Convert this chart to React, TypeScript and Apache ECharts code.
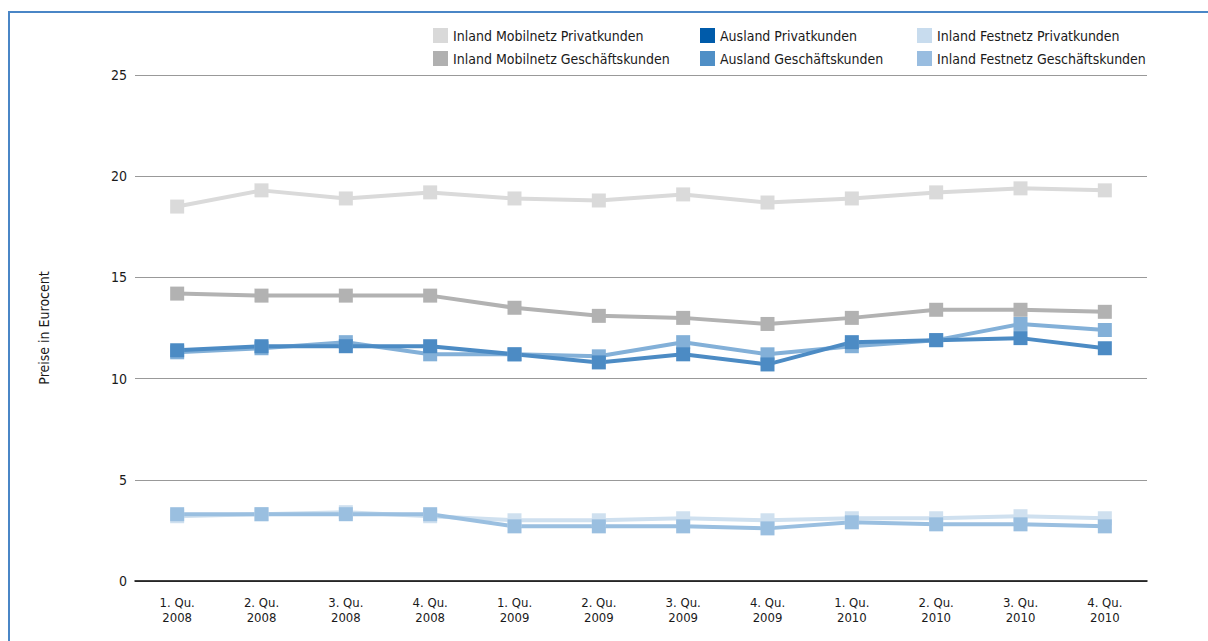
import React, { useEffect, useRef } from "react";
import * as echarts from "echarts";

const FONT = "'DejaVu Sans Condensed', 'Liberation Sans Narrow', 'Arial Narrow', sans-serif";

const quarters = [
  "1. Qu.\n2008", "2. Qu.\n2008", "3. Qu.\n2008", "4. Qu.\n2008",
  "1. Qu.\n2009", "2. Qu.\n2009", "3. Qu.\n2009", "4. Qu.\n2009",
  "1. Qu.\n2010", "2. Qu.\n2010", "3. Qu.\n2010", "4. Qu.\n2010",
];

const mobilPrivat = [18.5, 19.3, 18.9, 19.2, 18.9, 18.8, 19.1, 18.7, 18.9, 19.2, 19.4, 19.3];
const mobilGeschaeft = [14.2, 14.1, 14.1, 14.1, 13.5, 13.1, 13.0, 12.7, 13.0, 13.4, 13.4, 13.3];
const auslandPrivat = [11.4, 11.6, 11.6, 11.6, 11.2, 10.8, 11.2, 10.7, 11.8, 11.9, 12.0, 11.5];
const auslandGeschaeft = [11.3, 11.5, 11.8, 11.2, 11.2, 11.1, 11.8, 11.2, 11.6, 11.9, 12.7, 12.4];
const festPrivat = [3.2, 3.3, 3.4, 3.2, 3.0, 3.0, 3.1, 3.0, 3.1, 3.1, 3.2, 3.1];
const festGeschaeft = [3.3, 3.3, 3.3, 3.3, 2.7, 2.7, 2.7, 2.6, 2.9, 2.8, 2.8, 2.7];

const yTicks = { min: 0, max: 25, interval: 5 };

const names = {
  mobilPrivat: "Inland Mobilnetz Privatkunden",
  mobilGeschaeft: "Inland Mobilnetz Geschäftskunden",
  auslandPrivat: "Ausland Privatkunden",
  auslandGeschaeft: "Ausland Geschäftskunden",
  festPrivat: "Inland Festnetz Privatkunden",
  festGeschaeft: "Inland Festnetz Geschäftskunden",
};

// line colour and legend swatch colour per series
const colors = {
  mobilPrivat: { line: "#dadada", key: "#d9d9d9" },
  mobilGeschaeft: { line: "#b2b2b2", key: "#b0b0b0" },
  auslandPrivat: { line: "#4c8bc4", key: "#005baa" },
  auslandGeschaeft: { line: "#83b0d8", key: "#4f8fc6" },
  festPrivat: { line: "#cfe0ef", key: "#c8dcee" },
  festGeschaeft: { line: "#9abfe0", key: "#99bde0" },
};

function lineSeries(key: keyof typeof names, data: number[]) {
  const c = colors[key].line;
  return {
    name: names[key],
    type: "line",
    data,
    symbol: "rect",
    symbolSize: 14,
    lineStyle: { color: c, width: 4 },
    itemStyle: { color: c },
    emphasis: { disabled: true },
  };
}

function legendColumn(left: number, keys: (keyof typeof names)[]) {
  return {
    left,
    top: 28,
    padding: 0,
    orient: "vertical",
    icon: "rect",
    itemWidth: 15,
    itemHeight: 15,
    itemGap: 8,
    selectedMode: false,
    textStyle: { fontFamily: FONT, fontSize: 14, color: "#1a1a1a" },
    data: keys.map((k) => ({ name: names[k], itemStyle: { color: colors[k].key } })),
  };
}

export default function App() {
  const ref = useRef<HTMLDivElement>(null);

  useEffect(() => {
    if (!ref.current) return;
    const chart = echarts.init(ref.current, undefined, { renderer: "svg" });
    chart.setOption({
      animation: false,
      backgroundColor: "#ffffff",
      textStyle: { fontFamily: FONT },
      legend: [
        legendColumn(433, ["mobilPrivat", "mobilGeschaeft"]),
        legendColumn(700, ["auslandPrivat", "auslandGeschaeft"]),
        legendColumn(917, ["festPrivat", "festGeschaeft"]),
      ],
      graphic: [
        { type: "line", shape: { x1: 9, y1: 12, x2: 9, y2: 641 }, style: { stroke: "#4a86c6", lineWidth: 2 } },
        { type: "line", shape: { x1: 8, y1: 12, x2: 1208, y2: 12 }, style: { stroke: "#4a86c6", lineWidth: 2 } },
      ],
      grid: { left: 135, right: 61, top: 75, bottom: 60 },
      xAxis: {
        type: "category",
        data: quarters,
        boundaryGap: true,
        axisLine: { lineStyle: { color: "#000", width: 1.5 } },
        axisTick: { show: false },
        axisLabel: { fontFamily: FONT, fontSize: 13, color: "#1a1a1a", lineHeight: 15, margin: 14, interval: 0 },
      },
      yAxis: {
        type: "value",
        min: yTicks.min,
        max: yTicks.max,
        interval: yTicks.interval,
        name: "Preise in Eurocent",
        nameLocation: "middle",
        nameGap: 84,
        nameRotate: 90,
        nameTextStyle: { fontFamily: FONT, fontSize: 14, color: "#1a1a1a" },
        axisLine: { show: false },
        axisTick: { show: false },
        axisLabel: { fontFamily: FONT, fontSize: 14, color: "#1a1a1a", margin: 8 },
        splitLine: { lineStyle: { color: "#999", width: 1 } },
      },
      series: [
        lineSeries("mobilPrivat", mobilPrivat),
        lineSeries("mobilGeschaeft", mobilGeschaeft),
        lineSeries("auslandGeschaeft", auslandGeschaeft),
        lineSeries("auslandPrivat", auslandPrivat),
        lineSeries("festPrivat", festPrivat),
        lineSeries("festGeschaeft", festGeschaeft),
      ],
    });
    return () => chart.dispose();
  }, []);

  return (
    <div
      ref={ref}
      style={{ position: "absolute", left: 0, top: 0, width: 1208, height: 641 }}
    />
  );
}
